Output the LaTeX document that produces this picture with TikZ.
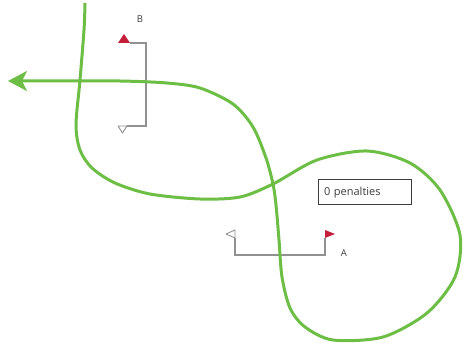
\documentclass[tikz,border=0pt]{standalone}
\usepackage{fontspec}
\setmainfont{Open Sans}
\usetikzlibrary{arrows.meta}
\definecolor{routegreen}{RGB}{108,190,69}
\definecolor{gatered}{RGB}{196,30,58}
\definecolor{polegrey}{RGB}{145,145,145}
\definecolor{textgrey}{RGB}{60,60,60}
\tikzstyle{pole} = [polegrey, line width=1.3pt]
\tikzstyle{redflag} = [fill=gatered]
\tikzstyle{whiteflag} = [draw=polegrey, fill=white, line width=0.9pt, line join=round]
\tikzstyle{gatelabel} = [textgrey, font=\fontsize{9.5}{10}\selectfont, inner sep=0pt]
\tikzstyle{penbox} = [rectangle, draw=polegrey, line width=1pt, minimum height=25pt, text width=82pt, inner xsep=5.5pt, anchor=west, textgrey, font=\fontsize{11}{12}\selectfont]
\tikzstyle{route} = [routegreen, line width=3pt, -{Stealth[length=19pt, width=20pt, inset=5pt]}]

\begin{document}
\begin{tikzpicture}[x=1pt, y=-1pt]
  \useasboundingbox (0,0) rectangle (466,344);

  % gate B
  \coordinate (bT) at (130,43);
  \coordinate (bPole) at (146,43);
  \coordinate (bB) at (127,126);
  \draw [pole] (bT) -- (bPole) |- (bB);
  \fill [redflag] (bT) -- ++(-12,0) -- ++(6,-9) -- cycle;
  \draw [whiteflag] (bB) -- ++(-9,0) -- ++(4.5,7) -- cycle;
  \node (labB) [gatelabel] at (140,19) {B};

  % gate A
  \coordinate (aW) at (235,238);
  \coordinate (aBase) at (235,255);
  \coordinate (aR) at (325,238);
  \draw [pole] (aW) -- (aBase) -| (aR);
  \draw [whiteflag] (aW) -- ++(0,-8) -- ++(-9,4) -- cycle;
  \fill [redflag] (aR) -- ++(0,-8) -- ++(10,4) -- cycle;
  \node (labA) [gatelabel] at (344,253) {A};

  \node (pen) [penbox] at (318,192.5) {0 penalties};

  % the run
  \draw [route] plot [smooth] coordinates {(85,3) (84,30) (80,80) (76,125)
    (80,150) (92,168) (115,183) (150,194) (200,199) (240,197) (273,184)
    (317,160) (367,151) (410,163) (440,190) (460,235) (455,277) (427,313)
    (383,337) (333,340) (305,327) (290,308) (282,277) (279,240) (276,205)
    (273,184) (266,158) (253,127) (233,104) (200,88) (167,83) (120,81)
    (60,81) (8,81)};
\end{tikzpicture}
\end{document}
